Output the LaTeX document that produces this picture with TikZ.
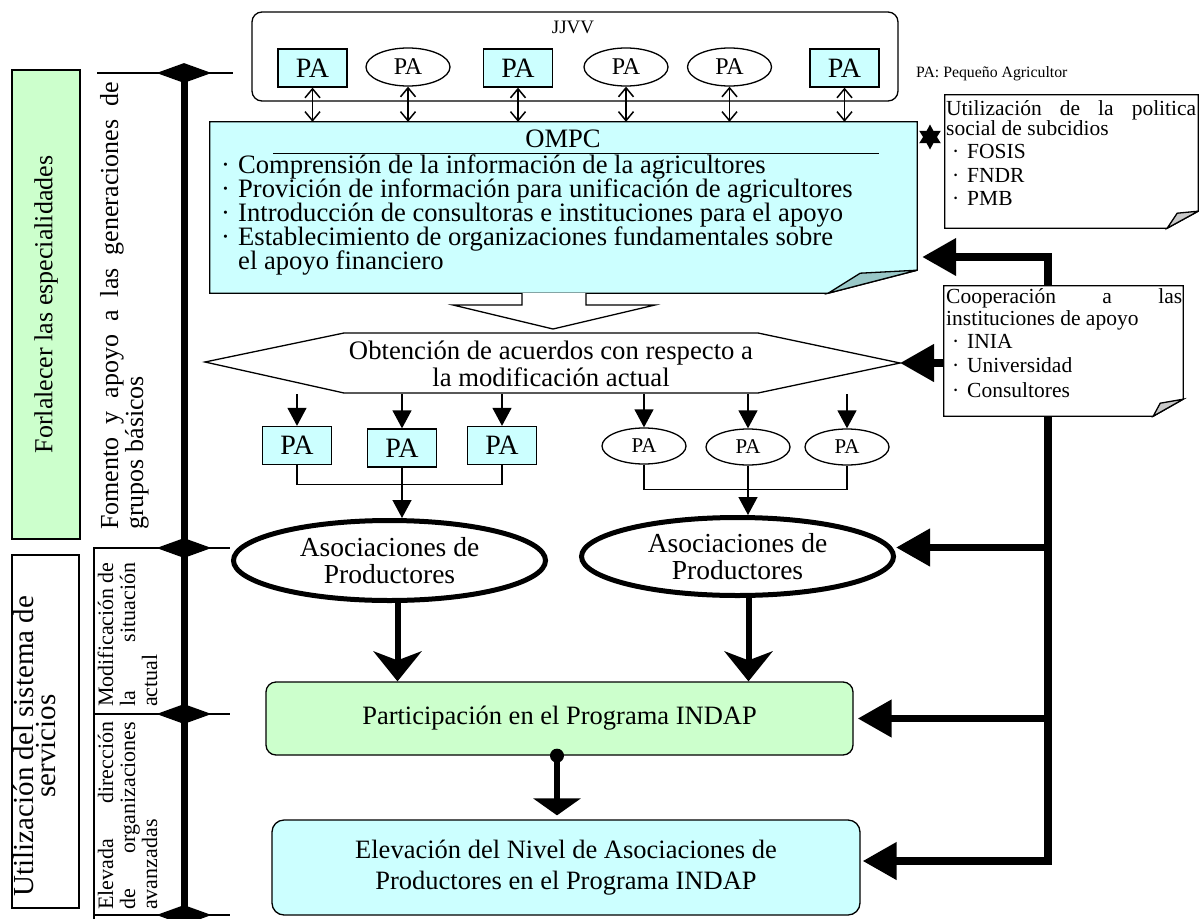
\documentclass[tikz,border=0pt]{standalone}
\usepackage{fontspec}
\setmainfont{Liberation Serif}
\usetikzlibrary{arrows.meta,shapes.geometric}
\definecolor{cyanfill}{HTML}{CCFFFF}
\definecolor{greenfill}{HTML}{CCFFCC}
\definecolor{foldteal}{HTML}{99C8C8}
\definecolor{foldgray}{HTML}{C8C8C8}
\newcommand\fsz[1]{\fontsize{#1}{#1}\selectfont}
\begin{document}
\begin{tikzpicture}[x=1pt,y=-1pt,
  thin/.style={line width=1.3pt},
  pabox/.style={draw, thin, fill=cyanfill, minimum width=69pt, minimum height=38pt, inner sep=0pt, font=\fsz{28}},
  paell/.style={ellipse, draw, thin, fill=white, minimum width=84pt, minimum height=38pt, inner sep=0pt, font=\fsz{24}},
  paellb/.style={paell, minimum height=36pt, font=\fsz{21}},
  ln/.style={inner sep=0pt, anchor=base west},
  rln/.style={inner sep=0pt, anchor=base west, rotate=90},
  dbl/.style={line width=1.5pt, {Straight Barb[length=9pt,width=15pt]}-{Straight Barb[length=9pt,width=15pt]}},
  sarrow/.style={thin, -{Triangle[length=18pt,width=19pt]}},
  bigarrow/.style={line width=7.5pt, -{Triangle[length=34pt,width=36pt]}},
  assocarrow/.style={line width=6pt, -{Stealth[length=30pt,width=48pt,inset=9pt]}},
  diam/.style={diamond, fill=black, aspect=2.75, minimum width=55pt, minimum height=20pt, inner sep=0pt},
  assoc/.style={ellipse, draw, line width=5pt, fill=white, align=center, inner sep=0pt, font=\fontsize{27.5}{27}\selectfont}
]
\useasboundingbox (0,0) rectangle (1199,918);

% ---------- left column ----------
\node[draw, thin, fill=greenfill, rotate=90, minimum width=469pt, minimum height=68pt, inner sep=0pt, font=\fsz{26}] (gl) at (46,304.5) {Forlalecer las especialidades};
\node[draw, thin, rotate=90, minimum width=353pt, minimum height=67pt, inner sep=0pt] (wl) at (45.5,731.5) {};
\node[inner sep=0pt, anchor=base, rotate=90, font=\fsz{29}] (wl1) at (33,746) {Utilización del sistema de};
\node[inner sep=0pt, anchor=base, rotate=90, font=\fsz{29}] (wl2) at (55,746) {servicios};

\node[rln, font=\fsz{26}] (fa1) at (118,530) {\makebox[448pt][s]{Fomento y apoyo a las generaciones de}};
\node[rln, font=\fsz{26}] (fa2) at (143,530) {grupos básicos};

\node[rln, font=\fsz{22}] (mo1) at (113,707) {\makebox[144pt][s]{Modificación de}};
\node[rln, font=\fsz{22}] (mo2) at (135,707) {\makebox[144pt][s]{la situación}};
\node[rln, font=\fsz{22}] (mo3) at (157,707) {actual};

\node[rln, font=\fsz{22}] (el1) at (113,910) {\makebox[188pt][s]{Elevada dirección}};
\node[rln, font=\fsz{22}] (el2) at (135,910) {\makebox[188pt][s]{de organizaciones}};
\node[rln, font=\fsz{22}] (el3) at (157,910) {avanzadas};

\coordinate (d1) at (184,73);
\coordinate (d2) at (184,548);
\coordinate (d3) at (184,714);
\coordinate (d4) at (184,915);
\draw[thin] ([xshift=-87pt]d1) -- ([xshift=49pt]d1);
\draw[thin] ([xshift=-91pt]d2) -- ([xshift=46pt]d2);
\draw[thin] ([xshift=-90pt]d3) -- ([xshift=46pt]d3);
\draw[thin] ([xshift=-90pt]d4) -- ([xshift=46pt]d4);
\draw[thin] ([xshift=-90pt]d2) -- ([xshift=-90pt,yshift=-5pt]d4);
\draw[line width=7pt] (d1) -- (d4);
\node[diam] (D1) at (d1) {};
\node[diam] (D2) at (d2) {};
\node[diam] (D3) at (d3) {};
\node[diam] (D4) at (d4) {};

% ---------- JJVV ----------
\node[draw, thin, rounded corners=10pt, minimum width=646pt, minimum height=89pt, inner sep=0pt] (jjvv) at (575,56.5) {};
\node[inner sep=0pt, anchor=base, font=\fsz{19}] (jjvvl) at (573,33) {JJVV};
\node[pabox] (P1) at (312.5,68) {PA};
\node[paell] (P2) at (408,67) {\raisebox{-4pt}{PA}};
\node[pabox] (P3) at (518,68) {PA};
\node[paell] (P4) at (626,67) {\raisebox{-4pt}{PA}};
\node[paell] (P5) at (729.5,67) {\raisebox{-4pt}{PA}};
\node[pabox] (P6) at (844.5,68) {PA};
\node[ln, font=\fsz{15.8}] (legend) at (916,77) {PA: Pequeño Agricultor};

% ---------- OMPC ----------
\node[minimum width=707pt, minimum height=171pt, inner sep=0pt] (ompc) at (563.5,207.5) {};
\draw[thin, fill=cyanfill] (ompc.north west) -- (ompc.north east) -- ([yshift=23pt]ompc.south east)
  -- ([xshift=-89pt]ompc.south east) -- (ompc.south west) -- cycle;
\draw[thin, fill=foldteal] ([xshift=-89pt]ompc.south east) -- ([xshift=-57pt,yshift=20pt]ompc.south east)
  -- ([yshift=23pt]ompc.south east) -- cycle;
\node[inner sep=0pt, anchor=base, font=\fsz{26.6}] (ompct) at (563,147) {OMPC};
\draw[thin] (273,153.5) -- (879,153.5);
\node[ln, font=\fsz{26.6}] (om1) at (221,173) {\makebox[17pt][l]{·}Comprensión de la información de la agricultores};
\node[ln, font=\fsz{26.6}] (om2) at (221,197) {\makebox[17pt][l]{·}Provición de información para unificación de agricultores};
\node[ln, font=\fsz{26.6}] (om3) at (221,221) {\makebox[17pt][l]{·}Introducción de consultoras e instituciones para el apoyo};
\node[ln, font=\fsz{26.6}] (om4) at (221,245) {\makebox[17pt][l]{·}Establecimiento de organizaciones fundamentales sobre};
\node[ln, font=\fsz{26.6}] (om5) at (238,269) {el apoyo financiero};

\foreach \p in {P1,P2,P3,P4,P5,P6} \draw[dbl] (\p.south) -- (\p.south |- ompc.north);

% ---------- notes ----------
\node[minimum width=253pt, minimum height=133pt, inner sep=0pt] (n1) at (1071.5,161.5) {};
\draw[thin, fill=white] (n1.north west) -- (n1.north east) -- ([yshift=17pt]n1.south east)
  -- ([xshift=-31pt]n1.south east) -- (n1.south west) -- cycle;
\draw[thin, fill=foldgray] ([xshift=-31pt]n1.south east) -- ([xshift=-21pt,yshift=15pt]n1.south east)
  -- ([yshift=17pt]n1.south east) -- cycle;
\node[ln, font=\fsz{21.5}] (n1a) at (946,115) {\makebox[250pt][s]{Utilización de la politica}};
\node[ln, font=\fsz{21.5}] (n1b) at (946,135) {social de subcidios};
\node[ln, font=\fsz{21.5}] (n1c) at (952,158) {\makebox[15pt][l]{·}FOSIS};
\node[ln, font=\fsz{21.5}] (n1d) at (952,182) {\makebox[15pt][l]{·}FNDR};
\node[ln, font=\fsz{21.5}] (n1e) at (952,205) {\makebox[15pt][l]{·}PMB};
\node[star, star points=6, star point ratio=1.8, fill=black, minimum size=25pt, inner sep=0pt] (star) at (930,137) {};

\node[minimum width=239pt, minimum height=130pt, inner sep=0pt] (n2) at (1063.5,351) {};
\draw[thin, fill=white] (n2.north west) -- (n2.north east) -- ([yshift=17pt]n2.south east)
  -- ([xshift=-30pt]n2.south east) -- (n2.south west) -- cycle;
\draw[thin, fill=foldgray] ([xshift=-30pt]n2.south east) -- ([xshift=-23pt,yshift=13pt]n2.south east)
  -- ([yshift=17pt]n2.south east) -- cycle;
\node[ln, font=\fsz{21.5}] (n2a) at (946,303) {\makebox[236pt][s]{Cooperación a las}};
\node[ln, font=\fsz{21.5}] (n2b) at (946,325) {instituciones de apoyo};
\node[ln, font=\fsz{21.5}] (n2c) at (952,348) {\makebox[15pt][l]{·}INIA};
\node[ln, font=\fsz{21.5}] (n2d) at (952,372) {\makebox[15pt][l]{·}Universidad};
\node[ln, font=\fsz{21.5}] (n2e) at (952,397) {\makebox[15pt][l]{·}Consultores};

% ---------- big hollow arrow + hexagon ----------
\draw[thin, fill=white] (522,293) -- (522,305) -- (453,305) -- (553,329) -- (655,305) -- (586,305) -- (586,293);
\coordinate (hL) at (205,362);
\coordinate (hTL) at (344,333);
\coordinate (hTR) at (758,333);
\coordinate (hR) at (900,363);
\coordinate (hBR) at (758,393);
\coordinate (hBL) at (344,393);
\draw[thin, fill=white] (hL) -- (hTL) -- (hTR) -- (hR) -- (hBR) -- (hBL) -- cycle;
\node[align=center, inner sep=0pt, font=\fontsize{26.7}{27}\selectfont] (hex) at (551,364) {Obtención de acuerdos con respecto a\\la modificación actual};
\coordinate (hb) at (551,394);

% ---------- PA row 2 ----------
\node[pabox] (B1) at (297,445.5) {PA};
\node[pabox] (B2) at (402,448) {PA};
\node[pabox] (B3) at (502,445.5) {PA};
\node[paellb] (E1) at (644,446) {\raisebox{-4pt}{PA}};
\node[paellb] (E2) at (748,447) {\raisebox{-4pt}{PA}};
\node[paellb] (E3) at (847,447) {\raisebox{-4pt}{PA}};
\foreach \b in {B1,B2,B3,E1,E2,E3} \draw[sarrow] (\b.north |- hb) -- (\b.north);

% ---------- associations ----------
\node[assoc, minimum width=312pt, minimum height=80pt] (A1) at (389.5,560.5) {Asociaciones de\\Productores};
\node[assoc, minimum width=312pt, minimum height=78pt] (A2) at (737.5,556.5) {Asociaciones de\\Productores};
\draw[thin] (B1.south) -- ++(0,19) -| (B3.south);
\draw[sarrow] (B2.south) -- (B2.south |- A1.north);
\draw[thin] (E1.south) -- ++(0,25) -| (E3.south);
\draw[sarrow] (E2.south) -- (E2.south |- A2.north);

% ---------- INDAP boxes ----------
\node[draw, thin, fill=greenfill, rounded corners=10pt, minimum width=587pt, minimum height=73pt, inner sep=0pt, font=\fsz{26.5}] (green) at (559.5,718.5) {Participación en el Programa INDAP};
\node[draw, thin, fill=cyanfill, rounded corners=12pt, minimum width=588pt, minimum height=95pt, inner sep=0pt, align=center, font=\fontsize{26.5}{31}\selectfont] (blue) at (566,867.5) {Elevación del Nivel de Asociaciones de\\Productores en el Programa INDAP};

\draw[assocarrow] ([xshift=8pt]A1.south) -- ([xshift=8pt]A1.south |- green.north);
\draw[assocarrow] ([xshift=11pt]A2.south) -- ([xshift=11pt]A2.south |- green.north);
\draw[line width=6pt, -{Triangle[length=17pt,width=47pt]}, shorten >=4pt] ([xshift=-2.5pt]green.south) -- ([xshift=-2.5pt]green.south |- blue.north);
\fill ([xshift=-2.5pt]green.south) circle (7pt);

% ---------- thick right connectors ----------
\coordinate (vx) at ([xshift=-15.5pt]n2.north);
\coordinate (tipO) at ([xshift=5pt,yshift=-49.5pt]ompc.east);
\draw[bigarrow] (vx) |- (tipO);
\draw[bigarrow] (n2.west |- hR) -- (hR);
\coordinate (tipA) at ([yshift=9pt]A2.east);
\coordinate (tipG) at ([xshift=4pt]green.east);
\coordinate (tipB) at ([xshift=2pt,yshift=6.5pt]blue.east);
\draw[bigarrow] ([xshift=-15.5pt]n2.south) |- (tipB);
\draw[bigarrow] ([xshift=-15.5pt]n2.south |- tipA) -- (tipA);
\draw[bigarrow] ([xshift=-15.5pt]n2.south |- tipG) -- (tipG);
\end{tikzpicture}
\end{document}
